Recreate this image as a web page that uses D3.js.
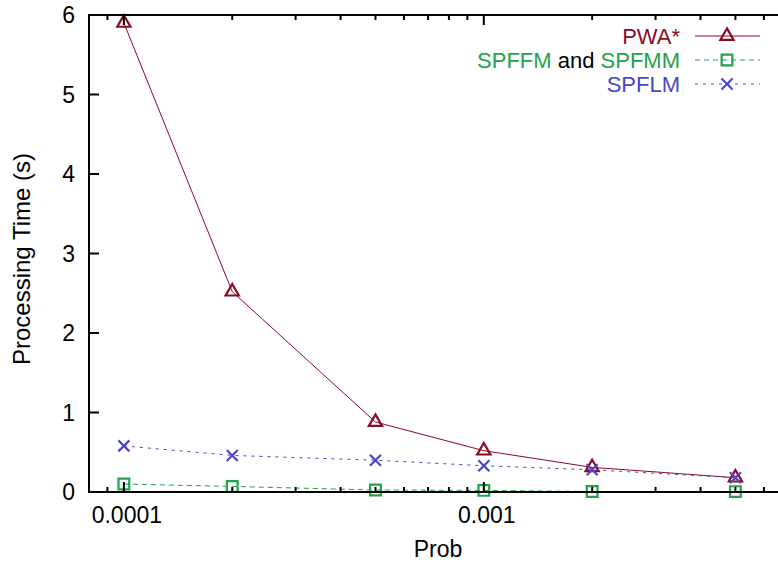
<!DOCTYPE html>
<html>
<head>
<meta charset="utf-8">
<script src="https://cdn.jsdelivr.net/npm/d3@7"></script>
<style>
  html, body { margin: 0; padding: 0; background: #fff; }
  svg { display: block; }
  svg text { font-family: "Liberation Sans", Arial, sans-serif; }
</style>
</head>
<body>
<div id="chart"></div>
<script>
// ── Data ─────────────────────────────────────────────────────
const probs       = [0.0001, 0.0002, 0.0005, 0.001, 0.002, 0.005];
const pwaTimes    = [5.90, 2.52, 0.88, 0.52, 0.31, 0.18];
const spffmTimes  = [0.10, 0.07, 0.025, 0.02, 0.006, 0.005];
const spflmTimes  = [0.58, 0.46, 0.40, 0.33, 0.28, 0.18];

const yTicks      = [0, 1, 2, 3, 4, 5, 6];
const xMajorTicks = [0.0001, 0.001];
const xTickLabels = ['0.0001', '0.001'];
const xMinorTicks = [0.00008, 0.00009, 0.0002, 0.0003, 0.0004, 0.0005, 0.0006, 0.0007, 0.0008, 0.0009,
                     0.002, 0.003, 0.004, 0.005, 0.006, 0.007];

const COLORS = {
  pwa:   '#8c0a24',
  spffm: '#22a24a',
  spflm: '#4848c8',
};

// ── Layout ───────────────────────────────────────────────────
const width  = 778;
const height = 564;
const plotLeft = 89, plotTop = 15, plotBottom = 492;
const plotRight = 788;   // plot runs off the picture on the right

const svg = d3.select('#chart').append('svg')
  .attr('width', width)
  .attr('height', height);

const x = d3.scaleLog()
  .domain([0.00008, 0.007])
  .range([plotLeft, plotRight]);

const y = d3.scaleLinear()
  .domain([0, 6])
  .range([plotBottom, plotTop]);

const FONT = 23;

// ── Series lines + markers ───────────────────────────────────
const line = d3.line().x((d, i) => x(probs[i])).y(d => y(d));

const triangle = d3.symbol().type(d3.symbolTriangle).size(76);
const square   = d3.symbol().type(d3.symbolSquare).size(115);
const cross    = 'M-5.5,-5.5L5.5,5.5M-5.5,5.5L5.5,-5.5';

const series = [
  { key: 'pwa',   values: pwaTimes,   dash: null,  marker: triangle() },
  { key: 'spffm', values: spffmTimes, dash: '5 4', marker: square() },
  { key: 'spflm', values: spflmTimes, dash: '3 5', marker: cross },
];

const plotG = svg.append('g');

series.forEach(s => {
  plotG.append('path')
    .datum(s.values)
    .attr('fill', 'none')
    .attr('stroke', COLORS[s.key])
    .attr('stroke-width', 1)
    .attr('stroke-dasharray', s.dash)
    .attr('d', line);

  plotG.selectAll(null)
    .data(s.values)
    .join('path')
    .attr('transform', (d, i) => `translate(${x(probs[i])},${y(d)})`)
    .attr('d', s.marker)
    .attr('fill', 'none')
    .attr('stroke', COLORS[s.key])
    .attr('stroke-width', 2.2);
});

// ── Axes / border ────────────────────────────────────────────
const axisG = svg.append('g');

axisG.append('path')
  .attr('d', `M${plotRight},${plotTop}H${plotLeft}V${plotBottom}H${plotRight}`)
  .attr('fill', 'none')
  .attr('stroke', '#000')
  .attr('stroke-width', 2);

// y ticks (inward)
yTicks.forEach(t => {
  axisG.append('line')
    .attr('x1', plotLeft).attr('x2', plotLeft + 10)
    .attr('y1', y(t)).attr('y2', y(t))
    .attr('stroke', '#000').attr('stroke-width', 2);
  axisG.append('text')
    .attr('x', plotLeft - 14)
    .attr('y', y(t))
    .attr('dy', '0.36em')
    .attr('text-anchor', 'end')
    .attr('font-size', FONT)
    .text(t);
});

// x ticks (bottom + mirrored top)
xMinorTicks.forEach(t => {
  [[plotBottom, -5], [plotTop, 5]].forEach(([yy, len]) => {
    axisG.append('line')
      .attr('x1', x(t)).attr('x2', x(t))
      .attr('y1', yy).attr('y2', yy + len)
      .attr('stroke', '#000').attr('stroke-width', 2);
  });
});

xMajorTicks.forEach((t, i) => {
  [[plotBottom, -10], [plotTop, 10]].forEach(([yy, len]) => {
    axisG.append('line')
      .attr('x1', x(t)).attr('x2', x(t))
      .attr('y1', yy).attr('y2', yy + len)
      .attr('stroke', '#000').attr('stroke-width', 2);
  });
  axisG.append('text')
    .attr('x', x(t) + 3)
    .attr('y', 523)
    .attr('text-anchor', 'middle')
    .attr('font-size', FONT)
    .text(xTickLabels[i]);
});

// Axis labels
svg.append('text')
  .attr('x', 438)
  .attr('y', 557)
  .attr('text-anchor', 'middle')
  .attr('font-size', FONT)
  .text('Prob');

svg.append('text')
  .attr('transform', 'translate(30,259) rotate(-90)')
  .attr('text-anchor', 'middle')
  .attr('font-size', 24)
  .text('Processing Time (s)');

// ── Legend ───────────────────────────────────────────────────
const legendRows = [
  { key: 'pwa',   parts: [['PWA*', COLORS.pwa]] },
  { key: 'spffm', parts: [['SPFFM', COLORS.spffm], [' and ', '#000'], ['SPFMM', COLORS.spffm]] },
  { key: 'spflm', parts: [['SPFLM', COLORS.spflm]] },
];

const legendG = svg.append('g');
legendRows.forEach((row, i) => {
  const s  = series.find(d => d.key === row.key);
  const cy = 36 + i * 24;

  const t = legendG.append('text')
    .attr('x', 680)
    .attr('y', cy + 8)
    .attr('text-anchor', 'end')
    .attr('font-size', 22)
    .style('white-space', 'pre');
  row.parts.forEach(([txt, col]) => {
    t.append('tspan').attr('fill', col).text(txt);
  });

  legendG.append('line')
    .attr('x1', 695).attr('x2', 760)
    .attr('y1', cy).attr('y2', cy)
    .attr('stroke', COLORS[row.key])
    .attr('stroke-width', 1)
    .attr('stroke-dasharray', s.dash);

  legendG.append('path')
    .attr('transform', `translate(727,${cy})`)
    .attr('d', s.marker)
    .attr('fill', 'none')
    .attr('stroke', COLORS[row.key])
    .attr('stroke-width', 2.2);
});
</script>
</body>
</html>
